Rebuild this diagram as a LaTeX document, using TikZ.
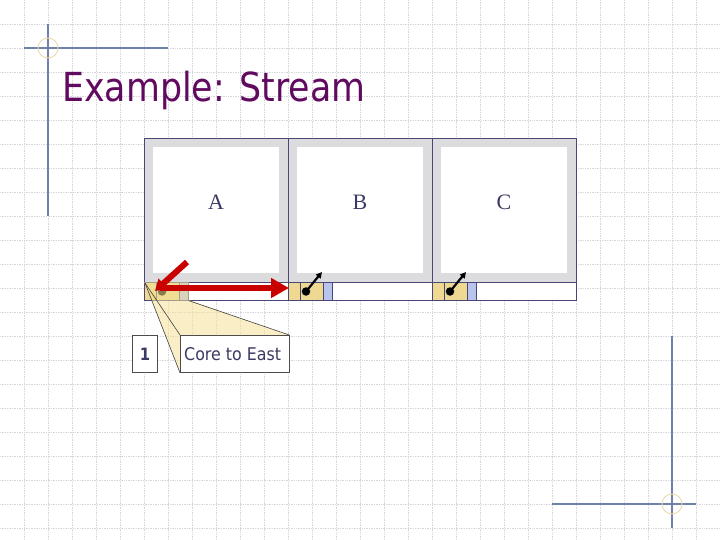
\documentclass[tikz,border=0pt]{standalone}
\usepackage{fontspec}
\setmainfont{Liberation Serif}
\newfontfamily\tah[FakeStretch=0.87]{DejaVu Sans}
\newfontfamily\tahs[FakeStretch=0.906]{DejaVu Sans}
\usetikzlibrary{arrows.meta}
\definecolor{gridc}{RGB}{214,214,220}
\definecolor{navy}{RGB}{72,72,118}
\definecolor{framegrey}{RGB}{220,220,222}
\definecolor{cellyel}{RGB}{238,216,146}
\definecolor{cellblue}{RGB}{184,196,238}
\definecolor{titlec}{RGB}{96,10,96}
\definecolor{textc}{RGB}{58,58,100}
\definecolor{decoline}{RGB}{112,128,168}
\definecolor{decocirc}{RGB}{232,224,176}
\definecolor{zoomfill}{RGB}{245,225,150}
\definecolor{redc}{RGB}{200,0,0}
\tikzset{
  gridline/.style={gridc, densely dotted, line width=0.7pt},
  deco/.style={decoline, line width=1.1pt},
  decoring/.style={decocirc, line width=1pt},
  tileframe/.style={draw=navy, line width=0.9pt, fill=framegrey, minimum size=144pt, inner sep=0pt},
  tileinner/.style={fill=white, minimum size=126pt, inner sep=0pt},
  tilelabel/.style={textc, font=\fontsize{22}{24}\selectfont, inner sep=0pt, anchor=base},
  strip/.style={draw=navy, line width=0.9pt, fill=white},
  cellbox/.style={draw=navy, line width=0.6pt, inner sep=0pt, minimum height=18pt},
  dotnode/.style={circle, fill=black, minimum size=8.5pt, inner sep=0pt},
  blackarrow/.style={line width=2.2pt, -{Triangle[length=6pt,width=6pt]}},
  redarrow/.style={redc, line width=6pt},
  calloutline/.style={black!75, line width=0.6pt},
  callbox/.style={draw=black!70, line width=0.8pt, fill=white, inner sep=0pt, anchor=north west}
}
\begin{document}
\begin{tikzpicture}[x=1pt, y=-1pt]
\path[use as bounding box, fill=white] (0,0) rectangle (720,540);
% background grid
\foreach \gx in {24,48,...,696} {\draw[gridline] (\gx,0) -- (\gx,540);}
\foreach \gy in {24,48,...,528} {\draw[gridline] (0,\gy) -- (720,\gy);}
% corner decorations
\draw[deco] (48,24) -- (48,216);
\draw[deco] (24,48) -- (168,48);
\draw[decoring] (48,48) circle (10);
\draw[deco] (672,336) -- (672,528);
\draw[deco] (552,504) -- (696,504);
\draw[decoring] (672,504) circle (10);
% title
\node[titlec, anchor=base west, inner sep=0pt, font=\tah\fontsize{40}{44}\selectfont] (title) at (62,102) {Example: Stream};
% tiles
\foreach \n/\cx in {A/216,B/360,C/504} {
  \node[tileframe] (t\n) at (\cx,210) {};
  \node[tileinner] (i\n) at (\cx,210) {};
  \node[tilelabel] (l\n) at (\cx,210) {\n};
}
% strip
\draw[strip] (144,282) rectangle (576,300);
\foreach \n/\ox in {A/144,B/288,C/432} {
  \node[cellbox, fill=cellyel, minimum width=12pt, anchor=north west] (ca\n) at (\ox,282) {};
  \node[cellbox, fill=cellyel, minimum width=23pt, anchor=north west] (cb\n) at (\ox+12,282) {};
  \node[cellbox, fill=cellblue, minimum width=9pt, anchor=north west] (cc\n) at (\ox+35,282) {};
  \node[dotnode] (d\n) at (\ox+18,291.5) {};
}
\draw[navy, line width=0.9pt] (288,282) -- (288,300) (432,282) -- (432,300);
% black arrows in B and C
\coordinate (eB) at (322,272);
\coordinate (eC) at (466,272);
\draw[blackarrow] (dB.center) -- (eB);
\draw[blackarrow] (dC.center) -- (eC);
% zoom callout
\coordinate (zp) at (145,283);
\fill[zoomfill, opacity=0.55] (144,282) -- (189,282) -- (189,300) -- (288,335) -- (180,335) -- (180,372) -- cycle;
\node[callbox, minimum width=24.5pt, minimum height=37pt] (one) at (132.3,335) {};
\node[textc, font=\tah\bfseries\fontsize{17}{20}\selectfont, inner sep=0pt] (onet) at (one.center) {1};
\node[callbox, minimum width=108.5pt, minimum height=37pt] (core) at (180,335) {};
\node[textc, anchor=base west, inner sep=0pt, font=\tahs\fontsize{17.5}{20}\selectfont] (coret) at (184,360.7) {Core to East};
\draw[calloutline] (zp) -- (core.north west);
\draw[calloutline] (zp) -- (core.south west);
\draw[calloutline] (ccA.south east) -- (core.north east);
% red arrows
\coordinate (rd) at (187,262);
\coordinate (rdt) at (155,291);
\coordinate (rh) at (160,288);
\coordinate (rht) at (289,288);
\draw[redarrow, -{Triangle[length=11pt,width=13pt]}] (rd) -- (rdt);
\draw[redarrow, -{Triangle[length=18pt,width=19pt]}] (rh) -- (rht);
\end{tikzpicture}
\end{document}
